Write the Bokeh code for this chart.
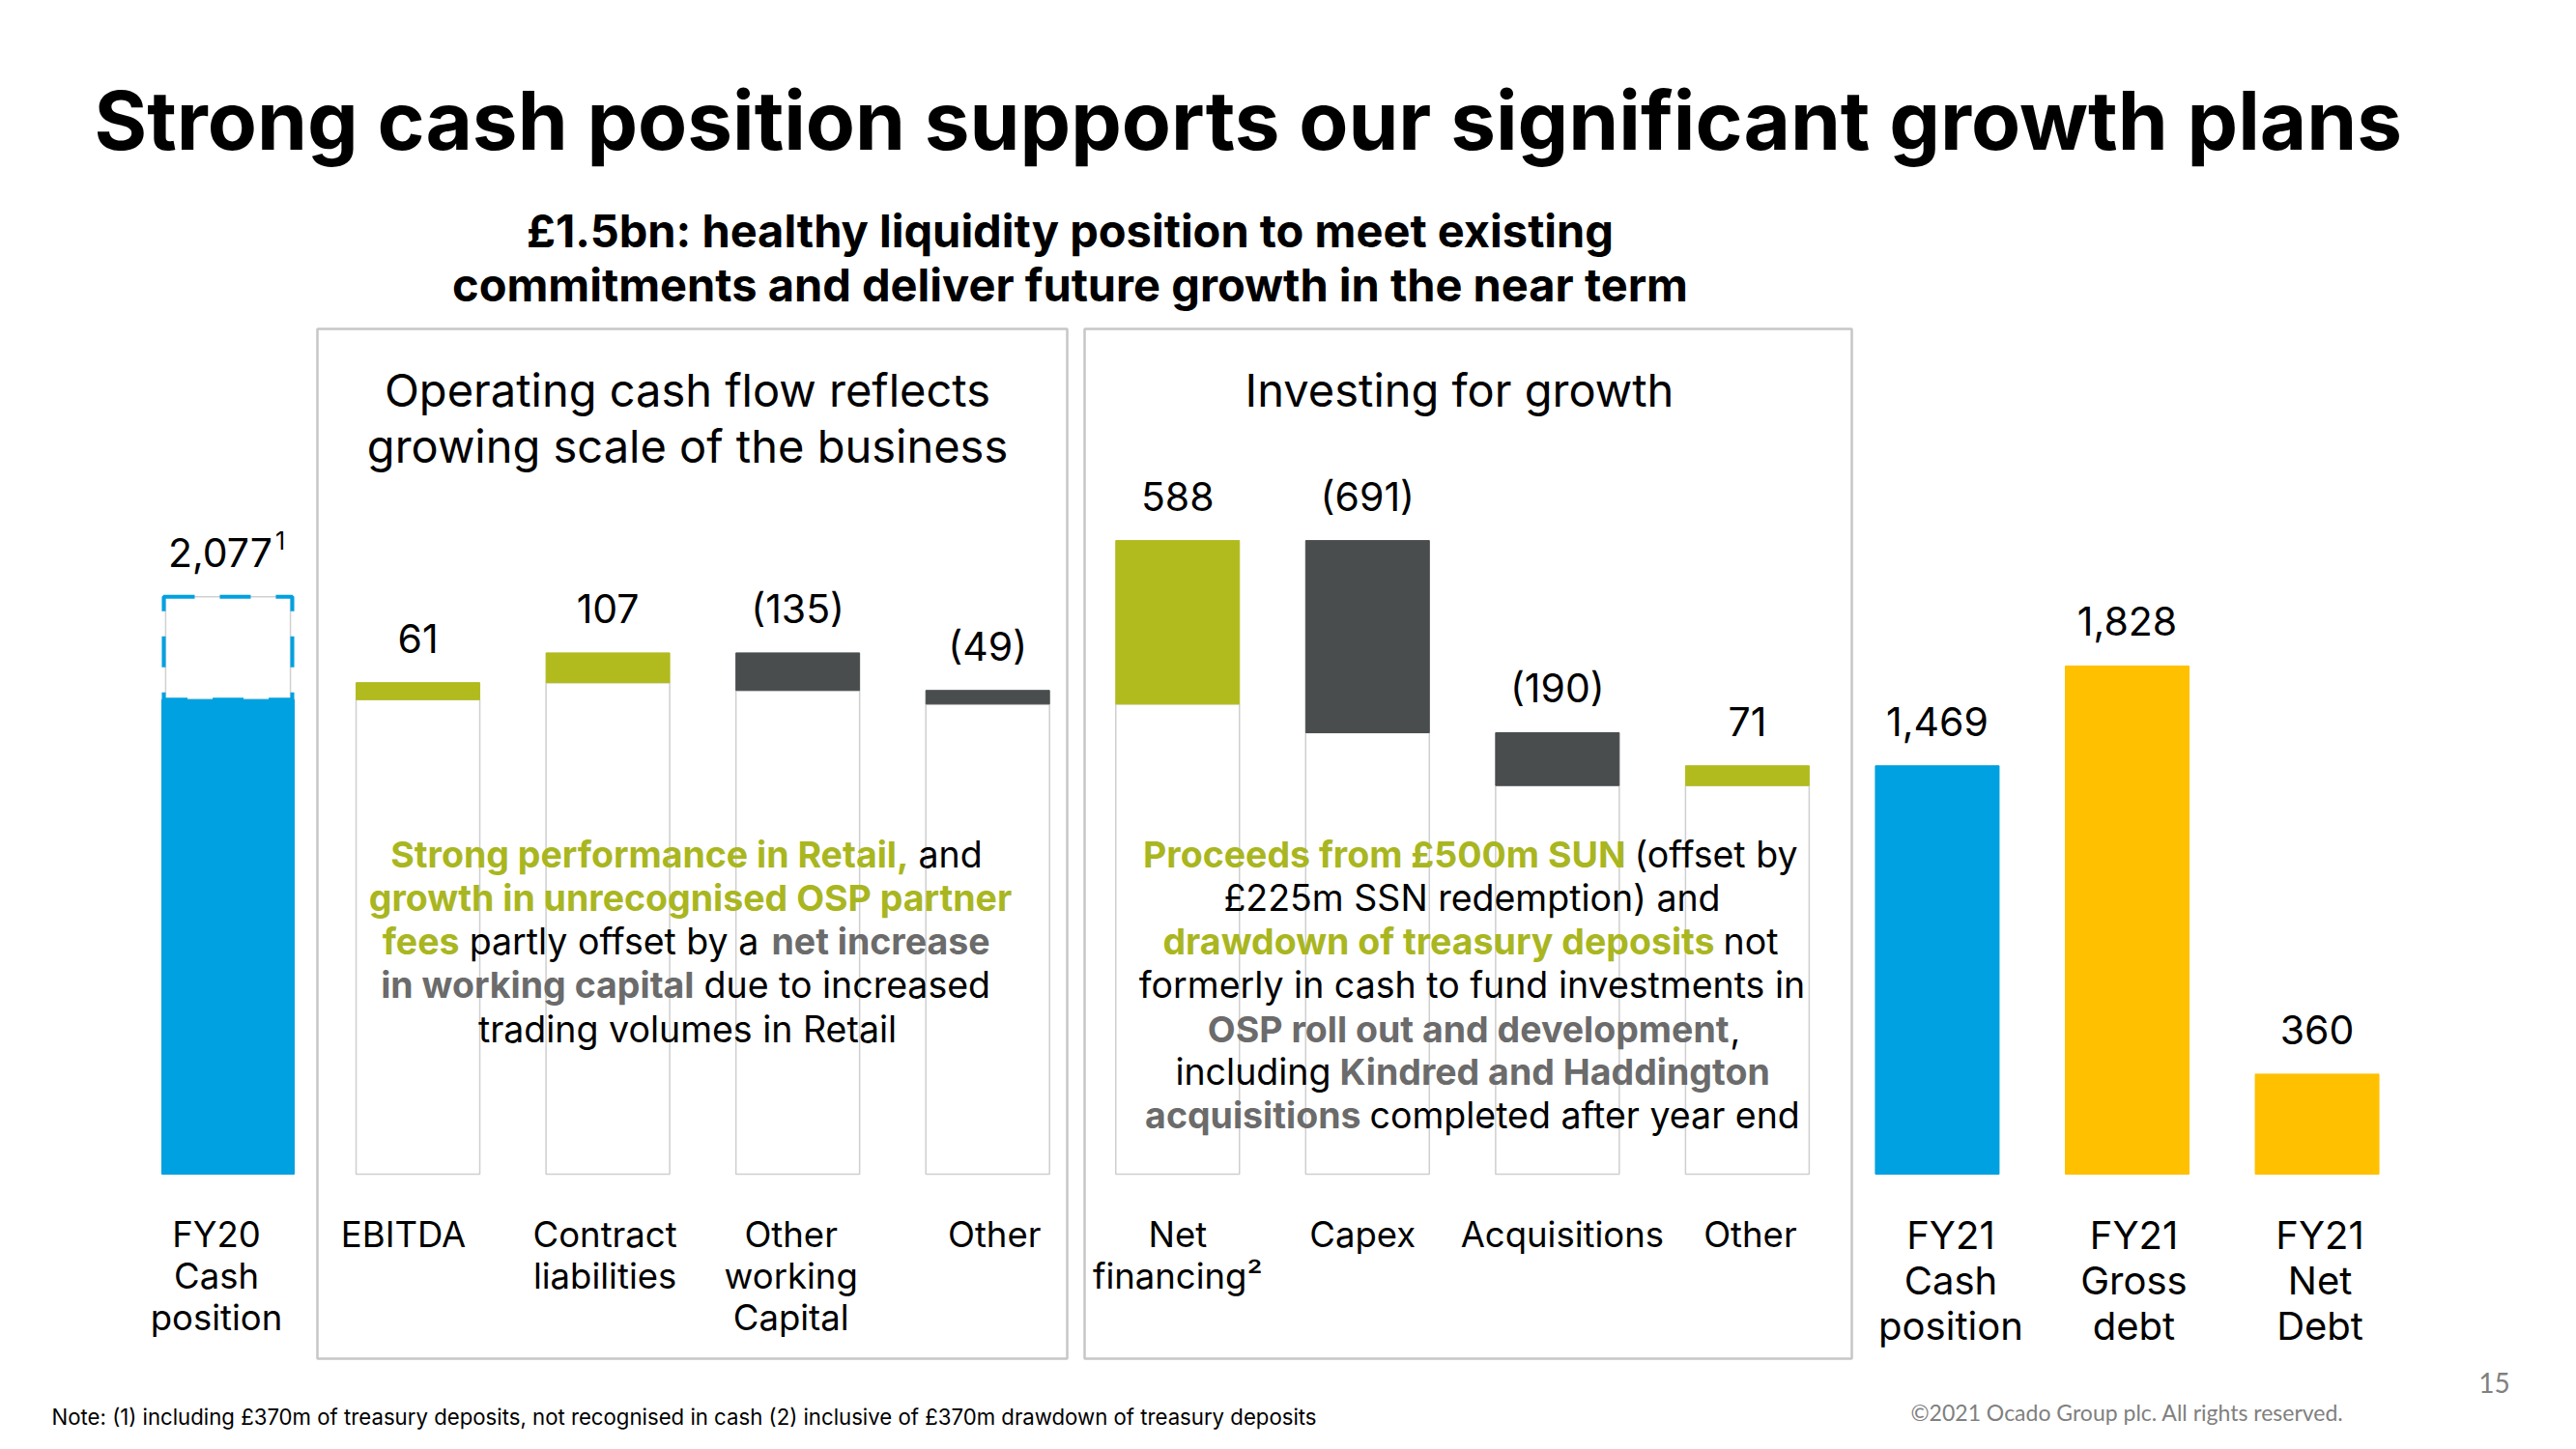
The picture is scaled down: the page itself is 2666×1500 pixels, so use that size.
from bokeh.plotting import figure
from bokeh.models import Range1d, Label, BoxAnnotation, ColumnDataSource
from bokeh.core.properties import value
from bokeh.embed import file_html
from bokeh.resources import INLINE

# ---------------- data ----------------
categories = ["FY20\nCash\nposition", "EBITDA", "Contract\nliabilities", "Other\nworking\nCapital",
              "Other", "Net\nfinancing²", "Capex", "Acquisitions", "Other",
              "FY21\nCash\nposition", "FY21\nGross\ndebt", "FY21\nNet\nDebt"]
fy20_cash_reported = 2077          # including treasury deposits
treasury_deposits = 370
movements = [61, 107, -135, -49, 588, -691, -190, 71]
movement_labels = ["61", "107", "(135)", "(49)", "588", "(691)", "(190)", "71"]
fy21_cash = 1469
fy21_gross_debt = 1828
fy21_net_debt = 360
fy20_label = "2,077"
end_labels = ["1,469", "1,828", "360"]

# ---------------- style / layout ----------------
BLUE = "#00A1E0"
GREEN = "#B1BB1E"
DARK = "#4A4D4E"
YELLOW = "#FFC000"
TXT_GREEN = "#A9B61F"
TXT_GRAY = "#6B6B6B"
BOX = "#474747"
FONT = "Inter"
# horizontal nudges (px) of category captions, as placed in the original slide
CAPTION_DX = [-12, -15, -3, -7, 7, 0, -5, 5, 3, 14, 7, 3]

OFF = 0
W, H = 2650, 1484
CX0, DX = 235.5, 196.55      # page px of first category centre, spacing
BASE, K = 1215, 0.2878       # page px of baseline, px per unit
BW = 128 / DX
BW0 = 137 / DX

p = figure(width=W, height=H, output_backend="svg", toolbar_location=None,
           x_range=Range1d(-(CX0 - OFF) / DX, (W - (CX0 - OFF)) / DX),
           y_range=Range1d(-(H - (BASE - OFF)) / K, (BASE - OFF) / K),
           x_axis_location=None, y_axis_location=None, min_border=0)
p.grid.visible = False
p.outline_line_color = None
p.background_fill_color = "white"
p.border_fill_color = "white"


def sx(px):
    return px - OFF


def sy(py):
    return H - (py - OFF)


def lab(text, px, py, size, color="#000000", bold=False, align="center", font=FONT):
    p.add_layout(Label(x=sx(px), y=sy(py), x_units="screen", y_units="screen", text=text,
                       text_font=font, text_font_size=f"{size}px",
                       text_font_style="bold" if bold else "normal",
                       text_color=color, text_align=align, text_baseline="middle"))


# ---------------- boxes ----------------
for l, r in [(328, 1104), (1122, 1916)]:
    p.add_layout(BoxAnnotation(left=sx(l), right=sx(r), top=sy(340), bottom=sy(1406),
                               left_units="screen", right_units="screen",
                               top_units="screen", bottom_units="screen",
                               fill_alpha=0, line_color=BOX, line_width=2.5))

# ---------------- bars ----------------
fy20_cash = fy20_cash_reported - treasury_deposits
# FY20
p.vbar(x=[0], bottom=[fy20_cash], top=[fy20_cash_reported], width=BW0 - 0.04,
       fill_color="white", line_color="#D0D0D0", line_width=1.5)
p.vbar(x=[0], bottom=[fy20_cash], top=[fy20_cash_reported], width=BW0 - 0.02,
       fill_alpha=0, line_color=BLUE, line_width=4, line_dash="32 26")
p.vbar(x=[0], bottom=[0], top=[fy20_cash], width=BW0, fill_color=BLUE, line_color=BLUE)

xs, lo, hi, cols = [], [], [], []
run = fy20_cash
for i, m in enumerate(movements):
    a, b = run, run + m
    xs.append(i + 1)
    lo.append(min(a, b))
    hi.append(max(a, b))
    cols.append(GREEN if m > 0 else DARK)
    run = b
src = ColumnDataSource(dict(x=xs, lo=lo, hi=hi, c=cols, zero=[0] * len(xs),
                            lab=movement_labels))
p.vbar(x="x", bottom="zero", top="lo", width=BW, source=src,
       fill_color="white", line_color="#CFCFCF", line_width=1.5)
p.vbar(x="x", bottom="lo", top="hi", width=BW, source=src,
       fill_color="c", line_color="c")

end_x = [9, 10, 11]
end_vals = [fy21_cash, fy21_gross_debt, fy21_net_debt]
end_cols = [BLUE, YELLOW, YELLOW]
p.vbar(x=end_x, bottom=0, top=end_vals, width=BW, fill_color=end_cols, line_color=end_cols)

# ---------------- value labels ----------------
lbl = ColumnDataSource(dict(x=xs + end_x, y=hi + end_vals, t=movement_labels + end_labels))
p.text(x="x", y="y", text="t", source=lbl, y_offset=-46, text_align="center",
       text_baseline="middle", text_font=value(FONT), text_font_size=value("41px"),
       text_color="#000000")
p.text(x=[0], y=[fy20_cash_reported], text=[fy20_label], x_offset=-8, y_offset=-46,
       text_align="center", text_baseline="middle", text_font=value(FONT),
       text_font_size=value("41px"), text_color="#000000")
# footnote marker on FY20 value
p.text(x=[0], y=[fy20_cash_reported], text=["1"], x_offset=54, y_offset=-58,
       text_align="center", text_baseline="middle", text_font=value(FONT),
       text_font_size=value("25px"), text_color="#000000")

# ---------------- category labels ----------------
cx, cy, ct, co, cdx = [], [], [], [], []
fx, fy, ft, fo, fdx = [], [], [], [], []
for i, c in enumerate(categories):
    for j, line in enumerate(c.split("\n")):
        if i >= 9:
            fx.append(i); fy.append(0); ft.append(line); fo.append(63 + 47 * j); fdx.append(CAPTION_DX[i])
        else:
            cx.append(i); cy.append(0); ct.append(line); co.append(62 + 43 * j); cdx.append(CAPTION_DX[i])
p.text(x="x", y="y", text="t", y_offset="o", x_offset="dx",
       source=ColumnDataSource(dict(x=cx, y=cy, t=ct, o=co, dx=cdx)),
       text_align="center", text_baseline="middle", text_font=value(FONT),
       text_font_size=value("36.5px"), text_color="#000000")
p.text(x="x", y="y", text="t", y_offset="o", x_offset="dx",
       source=ColumnDataSource(dict(x=fx, y=fy, t=ft, o=fo, dx=fdx)),
       text_align="center", text_baseline="middle", text_font=value(FONT),
       text_font_size=value("40px"), text_color="#000000")

# ---------------- titles ----------------
lab("Strong cash position supports our significant growth plans", 97, 124, 83.5,
    bold=True, align="left")
lab("£1.5bn: healthy liquidity position to meet existing", 1107, 238, 47, bold=True)
lab("commitments and deliver future growth in the near term", 1107, 294, 47, bold=True)
lab("Operating cash flow reflects", 711, 403, 47)
lab("growing scale of the business", 711, 461, 47)
lab("Investing for growth", 1510, 403, 47)

# ---------------- paragraphs (mixed styles) ----------------
G, B, N = "g", "d", "n"
runs = [
    # box 1
    ("Strong performance in Retail,", G, 940, "right", 884),
    ("and", N, 950, "left", 884),
    ("growth in unrecognised OSP partner", G, 714, "center", 929),
    ("fees", G, 475, "right", 974),
    ("partly offset by a", N, 635, "center", 974),
    ("net increase", B, 798, "left", 974),
    ("in working capital", B, 718, "right", 1019),
    ("due to increased", N, 728, "left", 1019),
    ("trading volumes in Retail", N, 711, "center", 1065),
    # box 2
    ("Proceeds from £500m SUN", G, 1682, "right", 884),
    ("(offset by", N, 1691, "left", 884),
    ("£225m SSN redemption) and", N, 1523, "center", 929),
    ("drawdown of treasury deposits", G, 1774, "right", 974),
    ("not", N, 1783, "left", 974),
    ("formerly in cash to fund investments in", N, 1523, "center", 1019),
    ("OSP roll out and development", B, 1789, "right", 1065),
    (",", N, 1790, "left", 1065),
    ("including", N, 1377, "right", 1109),
    ("Kindred and Haddington", B, 1386, "left", 1109),
    ("acquisitions", B, 1408, "right", 1154),
    ("completed after year end", N, 1417, "left", 1154),
]
for t, st, x, al, y in runs:
    if st == G:
        lab(t, x, y, 37.5, color=TXT_GREEN, bold=True, align=al)
    elif st == B:
        lab(t, x, y, 37.5, color=TXT_GRAY, bold=True, align=al)
    else:
        lab(t, x, y, 37.5, color="#000000", align=al)

# ---------------- footer ----------------
lab("Note: (1) including £370m of treasury deposits, not recognised in cash (2) inclusive of £370m drawdown of treasury deposits",
    53, 1466, 22.2, align="left")
lab("©2021 Ocado Group plc. All rights reserved.", 1977, 1461, 23, color="#808080",
    align="left", font="Lato")
lab("15", 2581, 1431, 28, color="#808080", font="Lato")

open("out.html", "w").write(file_html(p, INLINE))
